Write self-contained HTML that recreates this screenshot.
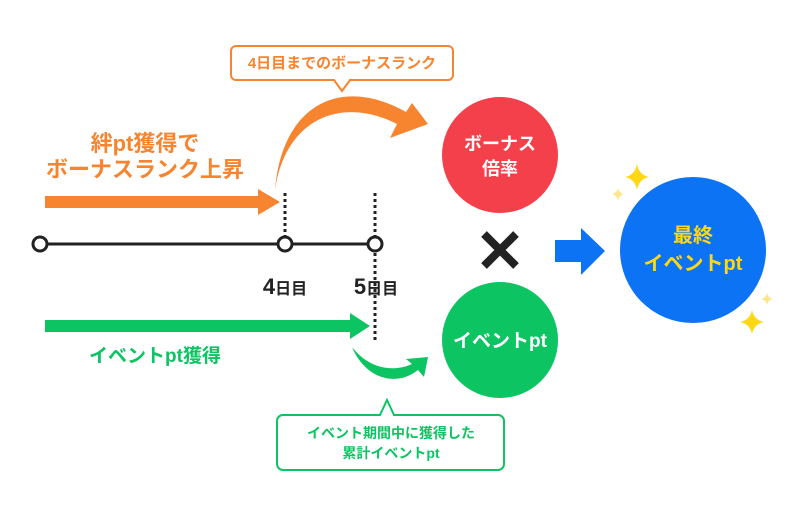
<!DOCTYPE html>
<html><head><meta charset="utf-8"><style>
html,body{margin:0;padding:0;background:#fff;}
body{width:800px;height:511px;overflow:hidden;font-family:"Liberation Sans","Noto Sans CJK JP",sans-serif;font-weight:bold;}
</style></head><body>
<svg width="800" height="511" viewBox="0 0 800 511" xmlns="http://www.w3.org/2000/svg" font-family="'Liberation Sans','Noto Sans CJK JP',sans-serif" font-weight="bold">
<!-- orange callout -->
<path d="M236,46 H448 a5,5 0 0 1 5,5 V75 a5,5 0 0 1 -5,5 H350 L342,91 L334,80 H236 a5,5 0 0 1 -5,-5 V51 a5,5 0 0 1 5,-5Z" fill="#fff" stroke="#f7842f" stroke-width="2"/>
<text x="342" y="68" font-size="15" fill="#f7842f" text-anchor="middle">4日目までのボーナスランク</text>
<!-- orange texts -->
<text x="145" y="151" font-size="22" fill="#f7842f" text-anchor="middle">絆pt獲得で</text>
<text x="145" y="177" font-size="22" fill="#f7842f" text-anchor="middle">ボーナスランク上昇</text>
<!-- orange straight arrow -->
<path d="M45,196 H258 V189 L280,202 L258,215 V208 H45Z" fill="#f7842f"/>
<!-- orange curved arrow -->
<path d="M275,190 C285,120 340,95 397,124 L390,138 L428,124 L412,103 L406,112 C340,75 282,105 275,190Z" fill="#f7842f"/>
<!-- dotted lines -->
<line x1="285" y1="193" x2="285" y2="238" stroke="#222" stroke-width="3" stroke-dasharray="3,3"/>
<line x1="375" y1="193" x2="375" y2="340" stroke="#222" stroke-width="3" stroke-dasharray="3,3"/>
<!-- timeline -->
<line x1="40" y1="244" x2="375" y2="244" stroke="#222" stroke-width="3"/>
<circle cx="40" cy="244" r="7" fill="#fff" stroke="#222" stroke-width="3"/>
<circle cx="285" cy="244" r="7" fill="#fff" stroke="#222" stroke-width="3"/>
<circle cx="375" cy="244" r="7" fill="#fff" stroke="#222" stroke-width="3"/>
<text x="285" y="294" font-size="22" fill="#222" text-anchor="middle">4<tspan font-size="16">日目</tspan></text>
<text x="376" y="294" font-size="22" fill="#222" text-anchor="middle">5<tspan font-size="16">日目</tspan></text>
<!-- green straight arrow -->
<path d="M45,320 H350 V313 L370,326 L350,339 V332 H45Z" fill="#0cc462"/>
<text x="155" y="362" font-size="19" fill="#0cc462" text-anchor="middle">イベントpt獲得</text>
<!-- green curve -->
<path d="M352,347 C365,378 395,388 418,370 L424,377 L428,357 L406,359 L412,364 C392,373 368,368 352,347Z" fill="#0cc462"/>
<!-- green callout -->
<path d="M283,415 H380 L387,400 L394,415 H498 a6,6 0 0 1 6,6 V464 a6,6 0 0 1 -6,6 H283 a6,6 0 0 1 -6,-6 V421 a6,6 0 0 1 6,-6Z" fill="#fff" stroke="#0cc462" stroke-width="2"/>
<text x="391" y="438" font-size="14" fill="#0cc462" text-anchor="middle">イベント期間中に獲得した</text>
<text x="391" y="458" font-size="14" fill="#0cc462" text-anchor="middle">累計イベントpt</text>
<!-- red circle -->
<circle cx="500" cy="155" r="58" fill="#f4404a"/>
<text x="500" y="150" font-size="18" fill="#fff" text-anchor="middle">ボーナス</text>
<text x="500" y="175" font-size="18" fill="#fff" text-anchor="middle">倍率</text>
<!-- X -->
<path d="M484,234 L516,266 M516,234 L484,266" stroke="#222" stroke-width="8"/>
<!-- green circle -->
<circle cx="500" cy="340" r="58" fill="#0cc462"/>
<text x="500" y="347" font-size="19" fill="#fff" text-anchor="middle">イベントpt</text>
<!-- blue arrow -->
<path d="M555,240 H581 V228 L605,251 L581,275 V262 H555Z" fill="#0c73f5"/>
<!-- blue circle -->
<circle cx="693" cy="250" r="73" fill="#0c73f5"/>
<text x="693" y="242" font-size="20" fill="#ffd713" text-anchor="middle">最終</text>
<text x="693" y="270" font-size="20" fill="#ffd713" text-anchor="middle">イベントpt</text>
<!-- sparkles -->
<path d="M637,164 Q639,175 649,177 Q639,179 637,190 Q635,179 625,177 Q635,175 637,164Z" fill="#ffd713"/>
<path d="M618,188 Q619,193 624,194 Q619,195 618,201 Q617,195 612,194 Q617,193 618,188Z" fill="#fbe68a"/>
<path d="M752,310 Q754,320 764,322 Q754,324 752,334 Q750,324 740,322 Q750,320 752,310Z" fill="#ffd713"/>
<path d="M767,293 Q768,298 773,299 Q768,300 767,305 Q766,300 761,299 Q766,298 767,293Z" fill="#fbe68a"/>
</svg>
</body></html>
